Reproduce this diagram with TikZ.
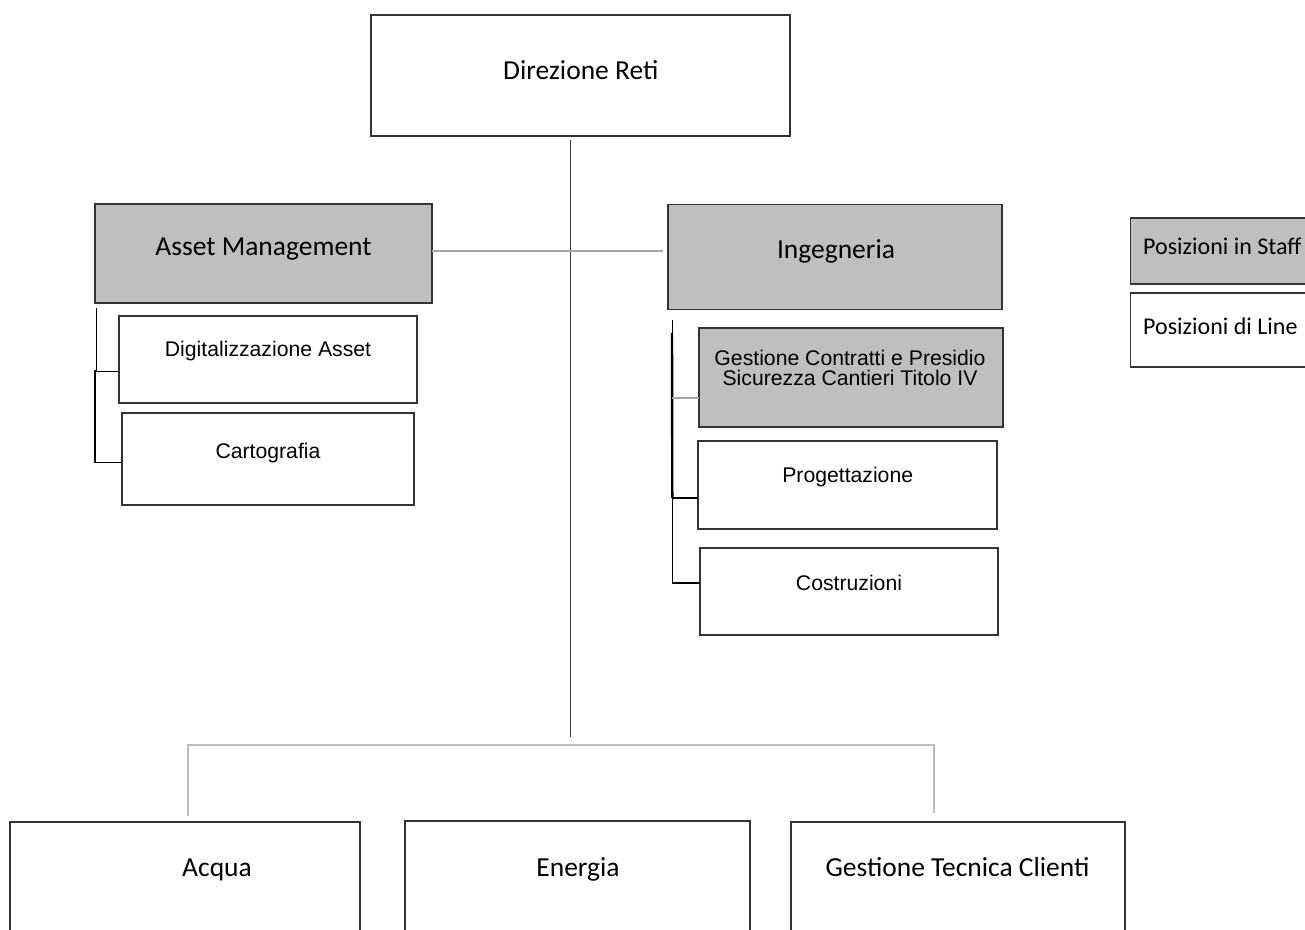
\documentclass[tikz,border=0pt]{standalone}
\usepackage{fontspec}
\newfontfamily\carlitofont{Carlito}
\newfontfamily\arialfont{Liberation Sans}
\definecolor{staffgray}{HTML}{BFBFBF}
\definecolor{boxline}{HTML}{333333}
\definecolor{trunkline}{HTML}{3C3C3C}
\definecolor{softline}{HTML}{A6A6A6}
\definecolor{paleline}{HTML}{BDBDBD}
\tikzset{
  unitbox/.style={draw=boxline, line width=1.3pt, inner sep=0pt, outer sep=0pt, anchor=north west},
  staffbox/.style={unitbox, fill=staffgray},
  bigtext/.style={font=\carlitofont\fontsize{27.5}{33}\selectfont, text height=17.7pt, text depth=0pt, inner sep=0pt, anchor=center},
  legtext/.style={font=\carlitofont\fontsize{24}{29}\selectfont, text height=15.5pt, text depth=0pt, inner sep=0pt, anchor=west},
  subtext/.style={font=\arialfont\fontsize{21.2}{20}\selectfont, text height=15.2pt, text depth=0pt, inner sep=0pt, anchor=center, align=center},
  trunk/.style={draw=trunkline, line width=1.3pt},
  brk/.style={draw=black, line width=1.1pt},
  softconn/.style={draw=softline, line width=1.1pt},
  paleconn/.style={draw=paleline, line width=1.1pt}
}
\begin{document}
\begin{tikzpicture}[x=1pt, y=-1pt]
\useasboundingbox (0,0) rectangle (1305,929);
\clip (0,0) rectangle (1305,929);
\fill[white] (0,0) rectangle (1305,929);

% top of the chart
\node[unitbox, minimum width=419pt, minimum height=121pt] (dir) at (371,15) {};
\node[bigtext] (dir-t) at (580.8,70.8) {Direzione Reti};

% staff units beside the trunk
\node[staffbox, minimum width=337pt, minimum height=99pt] (am) at (95,204) {};
\node[bigtext] (am-t) at (263.5,246.7) {Asset Management};
\node[staffbox, minimum width=334pt, minimum height=105pt] (ing) at (668,204.5) {};
\node[bigtext] (ing-t) at (836,250) {Ingegneria};

% sub-units of Asset Management
\node[unitbox, minimum width=298pt, minimum height=87pt] (dig) at (119,316) {};
\node[subtext] (dig-t) at (268,349) {Digitalizzazione Asset};
\node[unitbox, minimum width=292pt, minimum height=92pt] (car) at (122,413) {};
\node[subtext] (car-t) at (268,450.5) {Cartografia};

% sub-units of Ingegneria
\node[staffbox, minimum width=304pt, minimum height=99pt] (gcs) at (699,328) {};
\node[subtext] (gcs-t) at (850,378) {Gestione Contratti e Presidio\\Sicurezza Cantieri Titolo IV};
\node[unitbox, minimum width=299pt, minimum height=88pt] (prog) at (698,441) {};
\node[subtext] (prog-t) at (847.7,475) {Progettazione};
\node[unitbox, minimum width=298pt, minimum height=87pt] (cost) at (700,548) {};
\node[subtext] (cost-t) at (849,582.5) {Costruzioni};

% line units at the bottom
\node[unitbox, minimum width=350pt, minimum height=150pt] (acq) at (10,822) {};
\node[bigtext] (acq-t) at (217,868) {Acqua};
\node[unitbox, minimum width=345pt, minimum height=150pt] (ene) at (405,821) {};
\node[bigtext] (ene-t) at (578,868) {Energia};
\node[unitbox, minimum width=334pt, minimum height=150pt] (gtc) at (791,822) {};
\node[bigtext] (gtc-t) at (957.5,868) {Gestione Tecnica Clienti};

% legend
\node[staffbox, minimum width=190pt, minimum height=66pt] (leg-staff) at (1130.5,218) {};
\node[legtext] (leg-staff-t) at (1143,246.7) {Posizioni in Staff};
\node[unitbox, minimum width=190pt, minimum height=74pt] (leg-line) at (1130.5,293) {};
\node[legtext] (leg-line-t) at (1143,326.7) {Posizioni di Line};

% main trunk
\coordinate (trunktop) at (570.5,140);
\coordinate (trunkbot) at (570.5,737);
\coordinate (staffmid) at (570.5,251);
\draw[trunk] (trunktop) -- (trunkbot);

% staff link
\coordinate (ingstub) at (663,251);
\draw[softconn] (am.east |- staffmid) -- (ingstub);

% bottom distribution bar
\coordinate (barL) at (188,745);
\coordinate (barR) at (934,745);
\coordinate (acqK) at (188,816);
\coordinate (gtcK) at (934,813);
\draw[paleconn] (acqK) -- (barL) -- (barR) -- (gtcK);

% Asset Management bracket
\coordinate (amT) at (96.7,307.5);
\coordinate (digK) at (96.7,371.7);
\coordinate (carT) at (95,370);
\coordinate (carK) at (95,462.7);
\draw[brk] (amT) -- (digK) -- (digK -| dig.west);
\draw[brk] (carT) -- (carK) -- (carK -| car.west);

% Ingegneria bracket
\coordinate (ingT) at (672.3,320);
\coordinate (ingA) at (672,333);
\coordinate (gcsK) at (672.3,397.7);
\coordinate (progK) at (672.3,498);
\coordinate (costK) at (672.3,583);
\draw[brk] (ingT) -- (costK) -- (costK -| cost.west);
\draw[brk, line width=2.4pt] (ingA) -- (progK);
\draw[brk] (progK) -- (progK -| prog.west);
\draw[draw=softline, line width=1.6pt] (gcsK) -- (gcsK -| gcs.west);
\end{tikzpicture}
\end{document}
